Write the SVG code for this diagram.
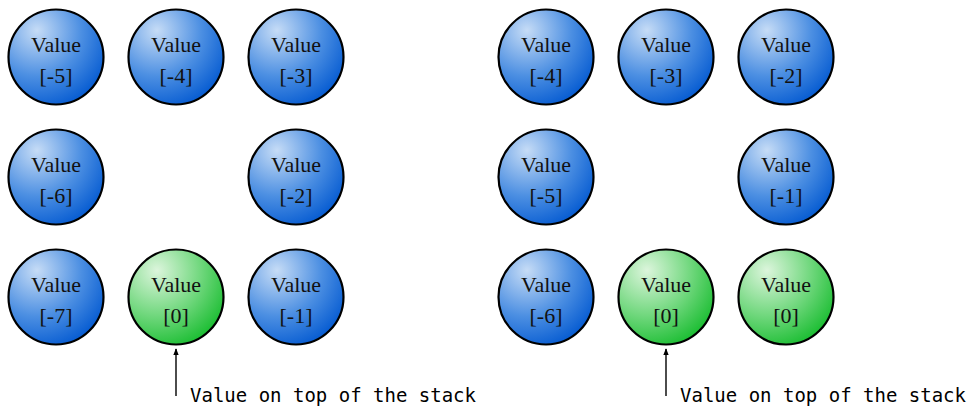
<svg xmlns="http://www.w3.org/2000/svg" width="975" height="407" viewBox="0 0 975 407">
  <defs>
    <radialGradient id="blueFill" cx="0.3" cy="0.25" r="0.85" fx="0.3" fy="0.22">
      <stop offset="0" stop-color="#c6dcf6"/>
      <stop offset="0.55" stop-color="#4c8fe2"/>
      <stop offset="1" stop-color="#0057d0"/>
    </radialGradient>
    <radialGradient id="greenFill" cx="0.3" cy="0.25" r="0.85" fx="0.3" fy="0.22">
      <stop offset="0" stop-color="#dcf5dc"/>
      <stop offset="0.55" stop-color="#6fd77c"/>
      <stop offset="1" stop-color="#14bb2c"/>
    </radialGradient>
    <marker id="arrowHead" viewBox="0 0 10 12" refX="9" refY="6" markerWidth="8" markerHeight="8" markerUnits="userSpaceOnUse" orient="auto">
      <path d="M0,2 L10,6 L0,10 Z" fill="#000"/>
    </marker>
  </defs>
  <style>
    .cell { stroke: #000; stroke-width: 2.2; }
    .blue { fill: url(#blueFill); }
    .green { fill: url(#greenFill); }
    .lbl { font-family: "Liberation Serif", "DejaVu Serif", serif; font-size: 22px; fill: #111; text-anchor: middle; }
    .note { font-family: "DejaVu Sans Mono", "Liberation Mono", monospace; font-size: 19px; fill: #000; }
    .conn { stroke: #000; stroke-width: 1.4; fill: none; }
  </style>

  <!-- left stack -->
  <g id="l-m5"><circle class="cell blue" cx="56" cy="57" r="47.5"/><text class="lbl" x="56" y="52">Value</text><text class="lbl" x="56" y="83">[-5]</text></g>
  <g id="l-m4"><circle class="cell blue" cx="176" cy="57" r="47.5"/><text class="lbl" x="176" y="52">Value</text><text class="lbl" x="176" y="83">[-4]</text></g>
  <g id="l-m3"><circle class="cell blue" cx="296" cy="57" r="47.5"/><text class="lbl" x="296" y="52">Value</text><text class="lbl" x="296" y="83">[-3]</text></g>
  <g id="l-m6"><circle class="cell blue" cx="56" cy="177" r="47.5"/><text class="lbl" x="56" y="172">Value</text><text class="lbl" x="56" y="203">[-6]</text></g>
  <g id="l-m2"><circle class="cell blue" cx="296" cy="177" r="47.5"/><text class="lbl" x="296" y="172">Value</text><text class="lbl" x="296" y="203">[-2]</text></g>
  <g id="l-m7"><circle class="cell blue" cx="56" cy="297" r="47.5"/><text class="lbl" x="56" y="292">Value</text><text class="lbl" x="56" y="323">[-7]</text></g>
  <g id="l-top"><circle class="cell green" cx="176" cy="297" r="47.5"/><text class="lbl" x="176" y="292">Value</text><text class="lbl" x="176" y="323">[0]</text></g>
  <g id="l-m1"><circle class="cell blue" cx="296" cy="297" r="47.5"/><text class="lbl" x="296" y="292">Value</text><text class="lbl" x="296" y="323">[-1]</text></g>

  <!-- right stack -->
  <g id="r-m4"><circle class="cell blue" cx="546" cy="57" r="47.5"/><text class="lbl" x="546" y="52">Value</text><text class="lbl" x="546" y="83">[-4]</text></g>
  <g id="r-m3"><circle class="cell blue" cx="666" cy="57" r="47.5"/><text class="lbl" x="666" y="52">Value</text><text class="lbl" x="666" y="83">[-3]</text></g>
  <g id="r-m2"><circle class="cell blue" cx="786" cy="57" r="47.5"/><text class="lbl" x="786" y="52">Value</text><text class="lbl" x="786" y="83">[-2]</text></g>
  <g id="r-m5"><circle class="cell blue" cx="546" cy="177" r="47.5"/><text class="lbl" x="546" y="172">Value</text><text class="lbl" x="546" y="203">[-5]</text></g>
  <g id="r-m1"><circle class="cell blue" cx="786" cy="177" r="47.5"/><text class="lbl" x="786" y="172">Value</text><text class="lbl" x="786" y="203">[-1]</text></g>
  <g id="r-m6"><circle class="cell blue" cx="546" cy="297" r="47.5"/><text class="lbl" x="546" y="292">Value</text><text class="lbl" x="546" y="323">[-6]</text></g>
  <g id="r-top"><circle class="cell green" cx="666" cy="297" r="47.5"/><text class="lbl" x="666" y="292">Value</text><text class="lbl" x="666" y="323">[0]</text></g>
  <g id="r-new"><circle class="cell green" cx="786" cy="297" r="47.5"/><text class="lbl" x="786" y="292">Value</text><text class="lbl" x="786" y="323">[0]</text></g>

  <!-- pointers to the top of each stack -->
  <g id="connectors">
    <line class="conn" x1="176" y1="396" x2="176" y2="349" marker-end="url(#arrowHead)"/>
    <line class="conn" x1="666" y1="396" x2="666" y2="349" marker-end="url(#arrowHead)"/>
  </g>
  <g id="l-note"><text class="note" x="190" y="401.5">Value on top of the stack</text></g>
  <g id="r-note"><text class="note" x="680" y="401.5">Value on top of the stack</text></g>
</svg>
